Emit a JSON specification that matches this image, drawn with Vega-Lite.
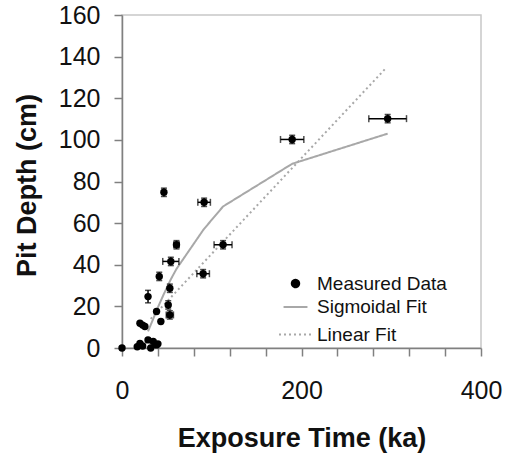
{
  "$schema": "https://vega.github.io/schema/vega-lite/v6.json",
  "width": 359,
  "height": 333,
  "autosize": {"type": "none"},
  "padding": {"left": 122, "top": 15, "right": 37, "bottom": 105},
  "background": "white",
  "config": {
    "font": "Liberation Sans",
    "view": {"stroke": "#c8c8c8", "strokeWidth": 1.5},
    "axis": {
      "grid": false,
      "domainColor": "#808080",
      "domainWidth": 1.5,
      "tickColor": "#808080",
      "tickWidth": 1.5,
      "tickSize": 8,
      "labelFont": "Liberation Sans",
      "labelFontSize": 25,
      "labelColor": "#111111",
      "titleFont": "Liberation Sans",
      "titleFontSize": 27,
      "titleFontWeight": "bold",
      "titleColor": "#111111",
      "labelFlush": false,
      "labelOverlap": false,
      "labelBound": false
    },
    "legend": {
      "title": null,
      "orient": "none",
      "legendX": 156,
      "legendY": 259,
      "padding": 0,
      "labelFont": "Liberation Sans",
      "labelFontSize": 19,
      "labelColor": "#111111",
      "labelOffset": 4,
      "rowPadding": -4,
      "symbolType": "stroke",
      "symbolSize": 1089,
      "symbolStrokeWidth": 2
    }
  },
  "datasets": {
    "measured": [
      {"series": "Measured Data", "x": 0, "y": 0},
      {"series": "Measured Data", "x": 17, "y": 0.6},
      {"series": "Measured Data", "x": 20, "y": 2.2},
      {"series": "Measured Data", "x": 23, "y": 1},
      {"series": "Measured Data", "x": 29, "y": 3.9},
      {"series": "Measured Data", "x": 32, "y": 0},
      {"series": "Measured Data", "x": 34.8, "y": 3.1},
      {"series": "Measured Data", "x": 38.5, "y": 1.5},
      {"series": "Measured Data", "x": 40, "y": 2},
      {"series": "Measured Data", "x": 20, "y": 11.9},
      {"series": "Measured Data", "x": 23, "y": 11},
      {"series": "Measured Data", "x": 25.5, "y": 10.3},
      {"series": "Measured Data", "x": 29, "y": 24.7, "ylo": 21.7, "yhi": 27.7},
      {"series": "Measured Data", "x": 38.5, "y": 17.5},
      {"series": "Measured Data", "x": 43.3, "y": 12.7},
      {"series": "Measured Data", "x": 41.5, "y": 34.4, "ylo": 32.4, "yhi": 36.4},
      {"series": "Measured Data", "x": 46.7, "y": 74.8, "ylo": 72.8, "yhi": 76.8},
      {"series": "Measured Data", "x": 51.5, "y": 20.7, "ylo": 18.7, "yhi": 22.7},
      {"series": "Measured Data", "x": 53.3, "y": 15.9, "xlo": 49.3, "xhi": 57.3, "ylo": 13.9, "yhi": 17.9},
      {"series": "Measured Data", "x": 53.3, "y": 28.7, "ylo": 26.7, "yhi": 30.7},
      {"series": "Measured Data", "x": 54.4, "y": 41.6, "xlo": 45.4, "xhi": 63.4, "ylo": 39.6, "yhi": 43.6},
      {"series": "Measured Data", "x": 60.7, "y": 49.6, "xlo": 57.7, "xhi": 63.7, "ylo": 47.6, "yhi": 51.6},
      {"series": "Measured Data", "x": 91.5, "y": 70, "xlo": 84.5, "xhi": 98.5, "ylo": 68, "yhi": 72},
      {"series": "Measured Data", "x": 90.4, "y": 35.7, "xlo": 83.4, "xhi": 97.4, "ylo": 33.7, "yhi": 37.7},
      {"series": "Measured Data", "x": 112.6, "y": 49.6, "xlo": 102.6, "xhi": 122.6, "ylo": 47.6, "yhi": 51.6},
      {"series": "Measured Data", "x": 189.6, "y": 100.2, "xlo": 176.6, "xhi": 202.6, "ylo": 98.2, "yhi": 102.2},
      {"series": "Measured Data", "x": 296, "y": 110.2, "xlo": 275, "xhi": 317, "ylo": 108.2, "yhi": 112.2}
    ],
    "sigmoid": [
      {"series": "Sigmoidal Fit", "x": 29, "y": 8},
      {"series": "Sigmoidal Fit", "x": 34.8, "y": 14},
      {"series": "Sigmoidal Fit", "x": 38.5, "y": 18},
      {"series": "Sigmoidal Fit", "x": 41.5, "y": 21},
      {"series": "Sigmoidal Fit", "x": 46.7, "y": 26},
      {"series": "Sigmoidal Fit", "x": 53.3, "y": 32},
      {"series": "Sigmoidal Fit", "x": 54.4, "y": 33},
      {"series": "Sigmoidal Fit", "x": 60.7, "y": 38},
      {"series": "Sigmoidal Fit", "x": 91, "y": 57},
      {"series": "Sigmoidal Fit", "x": 112.6, "y": 68},
      {"series": "Sigmoidal Fit", "x": 189.6, "y": 88.5},
      {"series": "Sigmoidal Fit", "x": 296, "y": 103}
    ],
    "linear": [
      {"series": "Linear Fit", "x": 32, "y": 14},
      {"series": "Linear Fit", "x": 293, "y": 134}
    ]
  },
  "encoding": {
    "x": {
      "field": "x",
      "type": "quantitative",
      "title": "Exposure Time (ka)",
      "scale": {"domain": [0, 400], "nice": false, "zero": false},
      "axis": {
        "values": [0, 40, 80, 120, 160, 200, 240, 280, 320, 360, 400],
        "labelExpr": "datum.value % 200 === 0 ? datum.label : ''",
        "labelPadding": 22,
        "titleY": 77,
        "titleBaseline": "top"
      }
    },
    "y": {
      "field": "y",
      "type": "quantitative",
      "title": "Pit Depth (cm)",
      "scale": {"domain": [0, 160], "nice": false, "zero": false},
      "axis": {
        "values": [0, 20, 40, 60, 80, 100, 120, 140, 160],
        "labelPadding": 14,
        "titleX": -81,
        "titleY": 170
      }
    }
  },
  "layer": [
    {
      "data": {"name": "linear"},
      "mark": {"type": "line", "strokeWidth": 2, "strokeDash": [2, 3]},
      "encoding": {
        "color": {"field": "series", "type": "nominal", "scale": {"domain": ["Measured Data", "Sigmoidal Fit", "Linear Fit"], "range": ["#000000", "#a8a8a8", "#a8a8a8"]}},
        "strokeDash": {"field": "series", "type": "nominal", "scale": {"domain": ["Measured Data", "Sigmoidal Fit", "Linear Fit"], "range": [[1, 0], [1, 0], [2, 3]]}}
      }
    },
    {
      "data": {"name": "sigmoid"},
      "mark": {"type": "line", "strokeWidth": 2},
      "encoding": {
        "color": {"field": "series", "type": "nominal"},
        "strokeDash": {"field": "series", "type": "nominal"}
      }
    },
    {
      "data": {"name": "measured"},
      "transform": [{"filter": "datum.xlo != null"}],
      "mark": {"type": "errorbar", "ticks": {"size": 7, "thickness": 1.5}, "thickness": 1.5, "color": "black"},
      "encoding": {
        "x": {"field": "xlo", "type": "quantitative", "title": "Exposure Time (ka)"},
        "x2": {"field": "xhi"}
      }
    },
    {
      "data": {"name": "measured"},
      "transform": [{"filter": "datum.ylo != null"}],
      "mark": {"type": "errorbar", "ticks": {"size": 6, "thickness": 1.5}, "thickness": 1.5, "color": "black"},
      "encoding": {
        "y": {"field": "ylo", "type": "quantitative", "title": "Pit Depth (cm)"},
        "y2": {"field": "yhi"}
      }
    },
    {
      "data": {"name": "measured"},
      "mark": {"type": "point", "filled": true, "opacity": 1, "strokeWidth": 0},
      "encoding": {
        "color": {"field": "series", "type": "nominal"},
        "shape": {"field": "series", "type": "nominal", "scale": {"domain": ["Measured Data", "Sigmoidal Fit", "Linear Fit"], "range": ["circle", "stroke", "stroke"]}},
        "size": {"field": "series", "type": "nominal", "scale": {"domain": ["Measured Data", "Sigmoidal Fit", "Linear Fit"], "range": [55, 1089, 1089]}}
      }
    }
  ]
}
